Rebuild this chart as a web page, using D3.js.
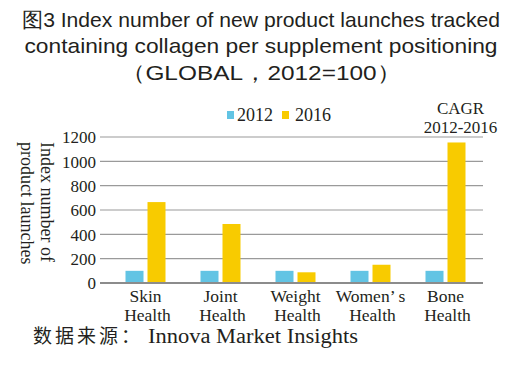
<!DOCTYPE html>
<html><head><meta charset="utf-8">
<script src="https://cdn.jsdelivr.net/npm/d3@7"></script>
<style>
html,body{margin:0;padding:0;background:#fff;}
svg{display:block;}
</style></head>
<body>
<script>
const categories = ["Skin Health","Joint Health","Weight Health","Women’ s Health","Bone Health"];
const seriesNames = ["2012","2016"];
const values2012 = [100,100,100,100,100];
const values2016 = [665,485,88,150,1155];
const yTicks = [0,200,400,600,800,1000,1200];
const colors = {"2012":"#62c4e4","2016":"#f8cb00"};
const titleLines = ["图3 Index number of new product launches tracked","containing collagen per supplement positioning","（GLOBAL，2012=100）"];
const yTitle = ["Index number of","product launches"];
const noteLines = ["CAGR","2012-2016"];
const sourceCn = "数据来源：";
const sourceEn = "Innova Market Insights";

const W=523,H=373;
const svg=d3.select("body").append("svg").attr("width",W).attr("height",H);
const serif="'Liberation Serif','Times New Roman',serif";
const sans="'Liberation Sans',Arial,sans-serif";

const plotL=100, plotR=483, plotT=137, plotB=283;
const y=d3.scaleLinear().domain([0,1200]).range([plotB,plotT]);
const x=d3.scaleBand().domain(categories).range([108,483]);
const xs=d3.scaleBand().domain(seriesNames).range([-20,20]).paddingInner(4/22).paddingOuter(0);

// title
const titleY=[27,53,79.5];
const titleW=[478,473,280];
titleLines.forEach((t,i)=>{
  svg.append("text").attr("x",261).attr("y",titleY[i]).attr("text-anchor","middle")
    .attr("font-family",sans).attr("font-size",21).attr("fill","#231f20")
    .attr("textLength",titleW[i]).attr("lengthAdjust","spacingAndGlyphs").text(t);
});

// grid
svg.append("g").selectAll("line").data(yTicks.filter(d=>d>0)).join("line")
  .attr("x1",plotL).attr("x2",plotR).attr("y1",d=>y(d)).attr("y2",d=>y(d))
  .attr("stroke","#9a9a9a").attr("stroke-width",1.2);

// y axis labels via d3 axis
const yAxis=d3.axisLeft(y).tickValues(yTicks).tickSize(0).tickPadding(0).tickFormat(d3.format("d"));
const ya=svg.append("g").attr("transform",`translate(96,0)`).call(yAxis);
ya.select(".domain").remove();
ya.selectAll("text").attr("font-family",serif).attr("font-size",17).attr("fill","#231f20").attr("dy","0.35em");

// bars
const data=categories.map((c,i)=>({cat:c,vals:[{s:"2012",v:values2012[i]},{s:"2016",v:values2016[i]}]}));
const groups=svg.append("g").selectAll("g").data(data).join("g")
  .attr("transform",d=>`translate(${x(d.cat)+x.bandwidth()/2},0)`);
groups.selectAll("rect").data(d=>d.vals).join("rect")
  .attr("x",d=>xs(d.s)).attr("width",xs.bandwidth())
  .attr("y",d=>y(d.v)).attr("height",d=>y(0)-y(d.v))
  .attr("fill",d=>colors[d.s]);

// baseline
svg.append("line").attr("x1",plotL).attr("x2",plotR).attr("y1",y(0)).attr("y2",y(0))
  .attr("stroke","#8c8c8c").attr("stroke-width",2.2);

// x labels (two lines)
categories.forEach(c=>{
  const k=c.lastIndexOf(" ");
  const l1=c.slice(0,k), l2=c.slice(k+1);
  const cx=x(c)+x.bandwidth()/2;
  const t=svg.append("text").attr("text-anchor","middle").attr("font-family",serif)
    .attr("font-size",17.5).attr("fill","#231f20");
  t.append("tspan").attr("x",cx).attr("y",301.5).text(l1);
  t.append("tspan").attr("x",cx+2).attr("y",321).text(l2);
});

// y title (two lines)
const yt=svg.append("text").attr("transform",`translate(0,142) rotate(90)`)
  .attr("font-family",serif).attr("font-size",18).attr("fill","#231f20").attr("text-anchor","start");
yTitle.forEach((t,i)=>{
  yt.append("tspan").attr("x",0).attr("y",[-41,-21][i]).text(t);
});

// legend
const legX=[227,282], legTX=[237,295];
seriesNames.forEach((s,i)=>{
  svg.append("rect").attr("x",legX[i]).attr("y",111).attr("width",7).attr("height",8).attr("fill",colors[s]);
  svg.append("text").attr("x",legTX[i]).attr("y",121).attr("font-family",serif).attr("font-size",18)
    .attr("fill","#231f20").text(s);
});

// CAGR note
const nt=svg.append("text").attr("text-anchor","middle").attr("font-family",serif)
  .attr("font-size",17).attr("fill","#231f20");
noteLines.forEach((t,i)=>{
  nt.append("tspan").attr("x",460.5).attr("y",[114,133][i]).text(t);
});

// source
svg.append("text").attr("x",33).attr("y",343).attr("font-family","'Noto Sans CJK SC',sans-serif")
  .attr("font-size",19).attr("fill","#231f20").attr("textLength",107).attr("lengthAdjust","spacing").text(sourceCn);
svg.append("text").attr("x",148).attr("y",343).attr("font-family",serif)
  .attr("font-size",20).attr("fill","#231f20").attr("textLength",210).attr("lengthAdjust","spacingAndGlyphs").text(sourceEn);
</script>
</body></html>
